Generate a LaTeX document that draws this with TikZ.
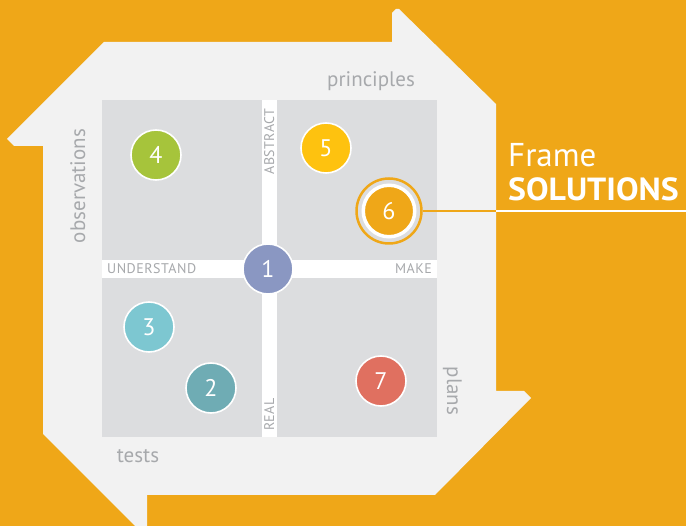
\documentclass[tikz,border=0pt]{standalone}
\usepackage{fontspec}
\setmainfont{PT Sans}
\newfontfamily\spacedsans[LetterSpace=3.5]{PT Sans}
\definecolor{bgorange}{HTML}{EFA718}
\definecolor{shapegray}{HTML}{F2F2F2}
\definecolor{quadgray}{HTML}{DCDDDF}
\definecolor{labelgray}{HTML}{A7A9AC}
\definecolor{cone}{HTML}{8A97C2}
\definecolor{ctwo}{HTML}{6FACB4}
\definecolor{cthree}{HTML}{7DC7D1}
\definecolor{cfour}{HTML}{A6C43B}
\definecolor{cfive}{HTML}{FEC20F}
\definecolor{cseven}{HTML}{E07060}
\begin{document}
\begin{tikzpicture}[x=1pt,y=-1pt,
  numcirc/.style={circle, draw=white, line width=1.6pt, minimum size=50pt, inner sep=0pt,
    text=white, font=\fontsize{24}{24}\selectfont},
  sidelabel/.style={text=labelgray, font=\fontsize{21}{21}\selectfont, inner sep=0pt},
  axislabel/.style={text=labelgray, font=\spacedsans\fontsize{14}{14}\selectfont, inner sep=0pt},
  titletext/.style={text=white, inner sep=0pt, anchor=base west}]
\useasboundingbox (0,0) rectangle (686,526);
\fill[bgorange] (0,0) rectangle (686,526);
% light frame with corner arrows
\fill[shapegray] (104,42) -- (392,42) -- (392,13) -- (396,9) -- (399,9) -- (496,104)
  -- (496,391) -- (524,391) -- (531,398) -- (435,495) -- (147,495) -- (147,530)
  -- (139,530) -- (43,434) -- (43,146) -- (14,146) -- (7,139) -- cycle;
% quadrants
\fill[quadgray] (102,100) rectangle (262,260);
\fill[quadgray] (277,100) rectangle (437,260);
\fill[quadgray] (102,278) rectangle (262,437);
\fill[quadgray] (277,278) rectangle (437,437);
\fill[white] (262,100) rectangle (277,437);
\fill[white] (102,260) rectangle (437,278);
% axis labels
\node[axislabel, rotate=90, anchor=base] (abstract) at (274,141.5) {ABSTRACT};
\node[axislabel, rotate=90, anchor=base] (real) at (274,414.5) {REAL};
\node[axislabel, anchor=base west] (understand) at (107,274) {UNDERSTAND};
\node[axislabel, anchor=base east] (make) at (432,274) {MAKE};
% side labels
\node[sidelabel, anchor=base] (principles) at (371,87) {principles};
\node[sidelabel, rotate=90, anchor=base] (observations) at (85,186) {observations};
\node[sidelabel, anchor=base] (tests) at (138,463) {tests};
\node[sidelabel, rotate=-90, anchor=base] (plans) at (447,391) {plans};
% circles
\node[numcirc, fill=cone] (c1) at (268,269) {1};
\node[numcirc, fill=ctwo] (c2) at (211,388) {2};
\node[numcirc, fill=cthree] (c3) at (149,327) {3};
\node[numcirc, fill=cfour] (c4) at (156,155) {4};
\node[numcirc, fill=cfive] (c5) at (326,148) {5};
\node[numcirc, fill=bgorange, minimum size=51.5pt, line width=3.5pt] (c6) at (389,211) {6};
\node[numcirc, fill=cseven] (c7) at (381,381) {7};
\draw[bgorange, line width=2.5pt] (c6.center) circle (32.5);
% connector to title
\path (c6.center) ++(33.5,0) coordinate (ring6);
\coordinate (frameedge) at (496,211);
\coordinate (rim) at (686,211);
\draw[bgorange, line width=2pt] (ring6) -- (frameedge);
\draw[white, line width=2pt] (frameedge) -- (rim);
% title
\node[titletext, font=\fontsize{33}{33}\selectfont] (frame) at (508,167) {Frame};
\node[titletext, font=\fontsize{32}{32}\selectfont\bfseries] (solutions) at (508,201) {\scalebox{1.055}[1]{SOLUTIONS}};
\end{tikzpicture}
\end{document}
